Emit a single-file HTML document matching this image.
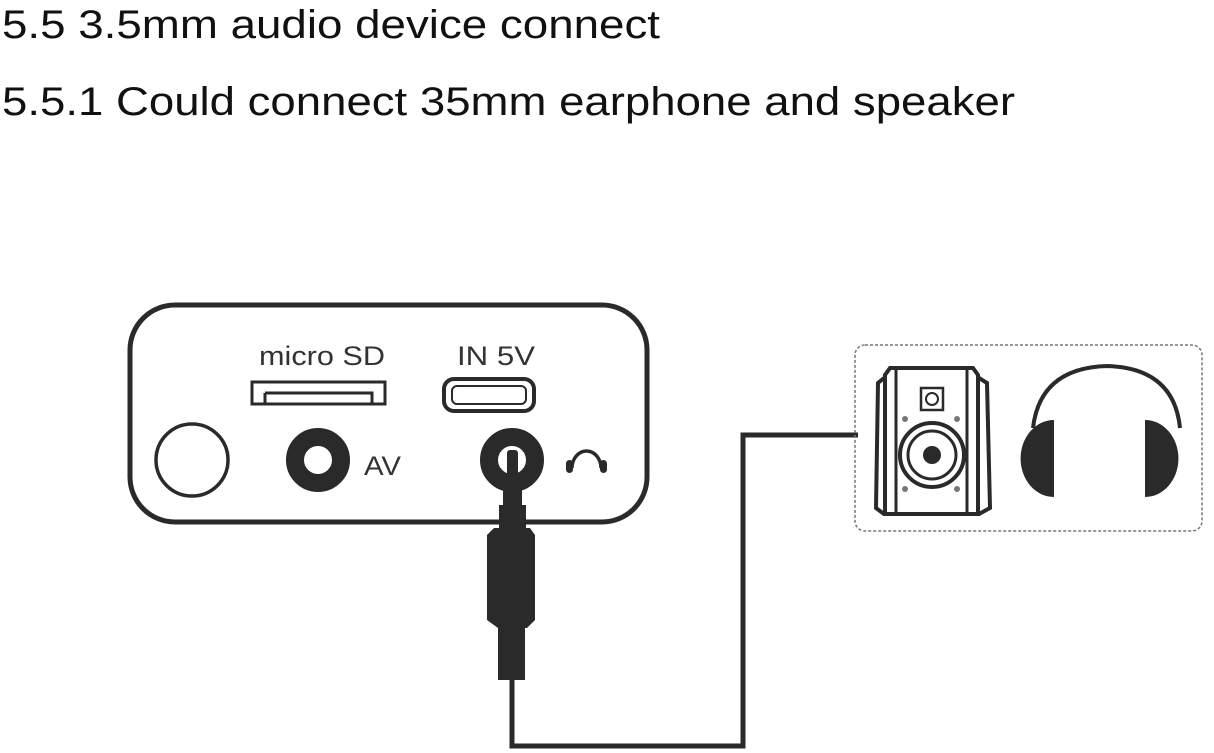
<!DOCTYPE html>
<html><head><meta charset="utf-8"><style>
html,body{margin:0;padding:0;background:#fff;}
svg{display:block}
</style></head><body>
<svg width="1214" height="753" viewBox="0 0 1214 753" xmlns="http://www.w3.org/2000/svg">
<rect width="1214" height="753" fill="#fff"/>
<g font-family="Liberation Sans, sans-serif" fill="#111">
<text x="2" y="38" font-size="40" textLength="658" lengthAdjust="spacingAndGlyphs">5.5 3.5mm audio device connect</text>
<text x="2" y="115" font-size="40" textLength="1013" lengthAdjust="spacingAndGlyphs">5.5.1 Could connect 35mm earphone and speaker</text>
</g>
<g fill="none" stroke="#2a2a2a">
<rect x="130" y="305" width="517" height="217" rx="45" stroke-width="5"/>
<circle cx="192" cy="460" r="36" stroke-width="3.5"/>
<rect x="252" y="382" width="133" height="22" stroke-width="3"/>
<path d="M265 393 L265 403 M265 393 L372 393 L372 403" stroke-width="3"/>
<rect x="444" y="379" width="90" height="32" rx="10" stroke-width="4"/>
<rect x="452" y="386" width="74" height="18" rx="5" stroke-width="2"/>
<circle cx="318" cy="460" r="23" stroke-width="18"/>
<circle cx="512" cy="460" r="23" stroke-width="18"/>
<path d="M572 468 A14.5 17 0 0 1 601 468" stroke-width="3.5"/>
</g>
<rect x="566" y="460" width="7" height="13" rx="3.5" fill="#2a2a2a"/>
<rect x="600" y="460" width="7" height="13" rx="3.5" fill="#2a2a2a"/>
<g font-family="Liberation Sans, sans-serif" fill="#333" font-size="27">
<text x="259" y="365" textLength="126" lengthAdjust="spacingAndGlyphs">micro SD</text>
<text x="457" y="365" textLength="78" lengthAdjust="spacingAndGlyphs">IN 5V</text>
<text x="364" y="475" textLength="37" lengthAdjust="spacingAndGlyphs">AV</text>
</g>
<g fill="#2a2a2a">
<rect x="507" y="450" width="11" height="30" rx="3"/>
<rect x="503" y="478" width="19" height="30"/>
<rect x="499" y="505" width="27" height="25"/>
<path d="M494 528 L530 528 L535 535 L535 620 L527 628 L498 628 L487 620 L487 535 Z"/>
<rect x="498" y="626" width="27" height="54"/>
</g>
<path d="M512 680 L512 746 L743 746 L743 435 L858 435" fill="none" stroke="#2a2a2a" stroke-width="5"/>
<rect x="855" y="345" width="347" height="186" rx="10" fill="none" stroke="#777" stroke-width="1.5" stroke-dasharray="3,2"/>
<g fill="none" stroke="#2a2a2a">
<path d="M890 368 L973 368 L978 375 L978 508 L978 514 L885 514 L885 375 Z" stroke-width="4"/>
<path d="M884 378 L878 383 L876 508 L884 514 M979 378 L987 383 L990 508 L979 514" stroke-width="4"/>
<path d="M896 370 L896 512 M967 370 L967 512" stroke-width="3"/>
<rect x="921" y="388" width="22" height="22" stroke-width="2.5"/>
<circle cx="932" cy="399" r="6" stroke-width="2"/>
<circle cx="932" cy="455" r="32" stroke-width="4"/>
<circle cx="932" cy="455" r="24" stroke-width="3"/>
</g>
<circle cx="932" cy="455" r="9" fill="#2a2a2a"/>
<g fill="#777"><circle cx="905" cy="419" r="3"/><circle cx="957" cy="419" r="3"/><circle cx="905" cy="489" r="3"/><circle cx="957" cy="489" r="3"/></g>
<path d="M1033 428 Q1040 368 1107 366 Q1174 368 1180 428" fill="none" stroke="#2a2a2a" stroke-width="4"/>
<path d="M1054 420 A33 38 0 0 0 1054 497 Z" fill="#2a2a2a"/>
<path d="M1145 420 A33 38 0 0 1 1145 497 Z" fill="#2a2a2a"/>
</svg>
</body></html>
